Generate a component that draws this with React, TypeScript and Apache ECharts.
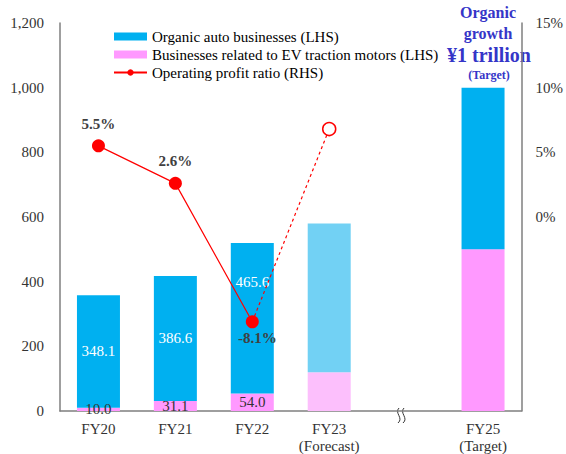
import React, { useEffect, useRef } from "react";
import * as echarts from "echarts";

const categories = ["FY20", "FY21", "FY22", "FY23\n(Forecast)", "", "FY25\n(Target)"];
const evMotors: (number | null)[] = [10.0, 31.1, 54.0, 120, null, 500];
const organicAuto: (number | null)[] = [348.1, 386.6, 465.6, 460, null, 500];
const profitRatio: (number | null)[] = [5.5, 2.6, -8.1, null, null, null];
const profitForecast: (number | null)[] = [null, null, -8.1, 6.8, null, null];
const leftTicks = [0, 200, 400, 600, 800, 1000, 1200];
const rightTicks = [-15, -10, -5, 0, 5, 10, 15];

const FONT = "'Liberation Serif', serif";
const BLUE = "#00b0f0";
const PINK = "#ff99ff";
const BLUE_LIGHT = "#72d1f4";
const PINK_LIGHT = "#fcbffc";
const RED = "#ff0000";
const TEXT = "#333333";
const TITLE = "#3535c8";

export default function App() {
  const ref = useRef<HTMLDivElement>(null);
  useEffect(() => {
    document.body.style.margin = "0";
    const chart = echarts.init(ref.current!, undefined, { renderer: "svg" });
    const forecastIdx = 3;
    const pinkData = evMotors.map((v, i) => {
      if (v === null) return null;
      const item: any = { value: v };
      if (i === forecastIdx) item.itemStyle = { color: PINK_LIGHT };
      item.label = { show: i < 3 };
      return item;
    });
    const blueData = organicAuto.map((v, i) => {
      if (v === null) return null;
      const item: any = { value: v };
      if (i === forecastIdx) item.itemStyle = { color: BLUE_LIGHT };
      item.label = { show: i < 3 };
      if (i === 2) item.label.offset = [0, -36];
      return item;
    });
    const lineData = profitRatio.map((v, i) => {
      if (v === null) return null;
      const item: any = { value: v };
      if (i === 2) item.label = { position: "bottom", distance: 2, offset: [5, 0] };
      return item;
    });
    const dashData = profitForecast.map((v, i) => {
      if (v === null) return null;
      const item: any = { value: v };
      if (i === 2) item.symbol = "none";
      return item;
    });
    const bx = 400;
    const titleText = (text: string, x: number, y: number, size: number) => ({
      type: "text",
      x,
      y,
      style: {
        text,
        align: "center",
        verticalAlign: "middle",
        fontFamily: FONT,
        fontSize: size,
        fontWeight: "bold",
        fill: TITLE,
      },
    });
    chart.setOption({
      animation: false,
      textStyle: { fontFamily: FONT },
      grid: { left: 60, right: 43, top: 23, bottom: 43 },
      legend: {
        orient: "vertical",
        left: 108,
        top: 24,
        itemWidth: 33,
        itemHeight: 8,
        itemGap: 3,
        textStyle: { fontFamily: FONT, fontSize: 15, color: "#000", lineHeight: 15 },
        data: [
          { name: "Organic auto businesses (LHS)", icon: "rect" },
          { name: "Businesses related to EV traction motors (LHS)", icon: "rect" },
          { name: "Operating profit ratio (RHS)" },
        ],
      },
      xAxis: {
        type: "category",
        data: categories,
        axisTick: { show: false },
        axisLine: { lineStyle: { color: "#7f7f7f", width: 1.5 } },
        axisLabel: { interval: 0, fontFamily: FONT, fontSize: 15, color: TEXT, lineHeight: 17, margin: 9 },
      },
      yAxis: [
        {
          type: "value",
          min: leftTicks[0],
          max: leftTicks[leftTicks.length - 1],
          interval: 200,
          splitLine: { show: false },
          axisLine: { show: true, lineStyle: { color: "#7f7f7f", width: 1.5 } },
          axisTick: { show: false },
          axisLabel: {
            fontFamily: FONT,
            fontSize: 15,
            color: TEXT,
            margin: 16,
            formatter: (v: number) => v.toLocaleString("en-US"),
          },
        },
        {
          type: "value",
          min: rightTicks[0],
          max: rightTicks[rightTicks.length - 1],
          interval: 5,
          splitLine: { show: false },
          axisLine: { show: true, lineStyle: { color: "#7f7f7f", width: 1.5 } },
          axisTick: { show: false },
          axisLabel: {
            fontFamily: FONT,
            fontSize: 15,
            color: TEXT,
            margin: 14,
            formatter: (v: number) => (v >= 0 ? v + "%" : ""),
          },
        },
      ],
      series: [
        {
          name: "Businesses related to EV traction motors (LHS)",
          type: "bar",
          stack: "total",
          barWidth: 43,
          itemStyle: { color: PINK },
          label: {
            position: "inside",
            fontFamily: FONT,
            fontSize: 15,
            color: TEXT,
            formatter: (p: any) => Number(p.value).toFixed(1),
          },
          data: pinkData,
        },
        {
          name: "Organic auto businesses (LHS)",
          type: "bar",
          stack: "total",
          barWidth: 43,
          itemStyle: { color: BLUE },
          label: {
            position: "inside",
            fontFamily: FONT,
            fontSize: 15,
            color: "#ffffff",
            formatter: (p: any) => Number(p.value).toFixed(1),
          },
          data: blueData,
        },
        {
          name: "Operating profit ratio (RHS)",
          type: "line",
          yAxisIndex: 1,
          symbol: "circle",
          symbolSize: 13,
          itemStyle: { color: RED },
          lineStyle: { color: RED, width: 1.2 },
          label: {
            show: true,
            position: "top",
            distance: 8,
            fontFamily: FONT,
            fontSize: 15,
            fontWeight: "bold",
            color: "#404040",
            formatter: (p: any) => Number(p.value).toFixed(1) + "%",
          },
          data: lineData,
          z: 5,
        },
        {
          name: "forecast",
          type: "line",
          yAxisIndex: 1,
          symbol: "circle",
          symbolSize: 13,
          itemStyle: { color: "#ffffff", borderColor: RED, borderWidth: 1.5 },
          lineStyle: { color: RED, width: 1.2, type: [3, 3] },
          data: dashData,
          z: 4,
        },
      ],
      graphic: [
        titleText("Organic", 488, 12, 16),
        titleText("growth", 488, 33, 16),
        titleText("¥1 trillion", 489, 55, 20),
        titleText("(Target)", 489, 75, 12),
        {
          type: "bezierCurve",
          shape: { x1: bx - 1, y1: 408, cpx1: bx - 6, cpy1: 413, cpx2: bx + 4, cpy2: 418, x2: bx - 2, y2: 423 },
          style: { stroke: "#333", lineWidth: 1, fill: null },
        },
        {
          type: "bezierCurve",
          shape: { x1: bx + 4, y1: 408, cpx1: bx - 1, cpy1: 413, cpx2: bx + 9, cpy2: 418, x2: bx + 3, y2: 423 },
          style: { stroke: "#333", lineWidth: 1, fill: null },
        },
      ],
    });
    return () => chart.dispose();
  }, []);
  return <div ref={ref} style={{ width: 566, height: 454 }} />;
}
